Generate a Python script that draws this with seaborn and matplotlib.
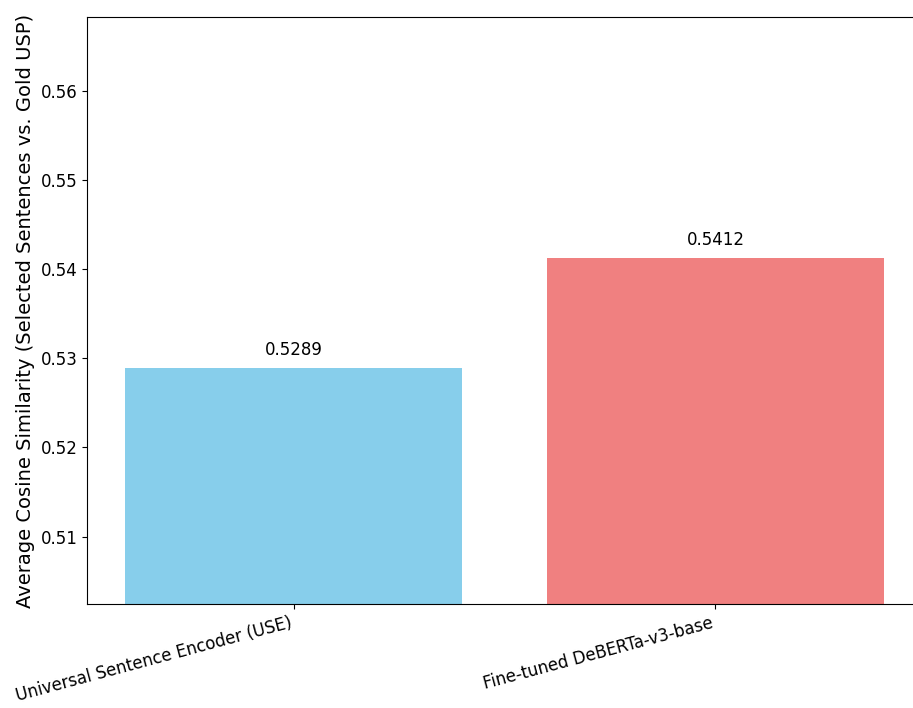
import matplotlib
matplotlib.use("Agg")
import matplotlib.pyplot as plt
import seaborn as sns

# datos del grafico
modelos = ["Universal Sentence Encoder (USE)", "Fine-tuned DeBERTa-v3-base"]
similitud = [0.5289, 0.5412]
colores = ["skyblue", "lightcoral"]

fig = plt.figure(figsize=(9.13, 7.08), dpi=100)
# el eje derecho queda fuera de la imagen, como en el original
ax = fig.add_axes([0.0953, 0.147, 0.9146, 0.829])

sns.barplot(x=modelos, y=similitud, hue=modelos, palette=colores,
            saturation=1, legend=False, width=0.8, ax=ax)

# limites como min*0.95 y max*1.05, margen x como plt.bar
ax.set_ylim(min(similitud) * 0.95, max(similitud) * 1.05)
ax.set_xlim(-0.49, 1.49)

for i, v in enumerate(similitud):
    ax.text(i, v + 0.001, f"{v:.4f}", ha="center", va="bottom", fontsize=12)

ax.set_ylabel("Average Cosine Similarity (Selected Sentences vs. Gold USP)", fontsize=14)
ax.set_xlabel("")
ax.tick_params(axis="y", labelsize=12)
plt.setp(ax.get_xticklabels(), rotation=15, ha="right", fontsize=12)

fig.savefig("out.png", dpi=100)
